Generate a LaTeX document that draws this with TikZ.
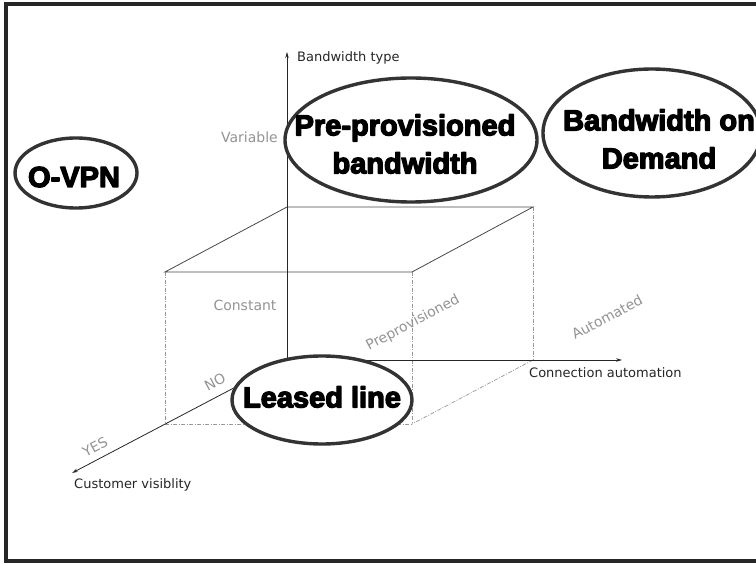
\documentclass[tikz,border=0pt]{standalone}
\usepackage{fontspec}
\setmainfont{DejaVu Sans}
\newfontfamily\heavy{Liberation Sans}
\newfontfamily\labfont{DejaVu Sans}
\usetikzlibrary{arrows.meta}
\newcommand\strk[1]{\special{pdf:literal 2 Tr 1.3 w 1 j}#1\special{pdf:literal 0 Tr}}
\definecolor{ink}{gray}{0.15}
\definecolor{lightlab}{gray}{0.58}
\definecolor{boxdash}{gray}{0.6}
\tikzset{
  axisline/.style={draw=ink, line width=0.8pt},
  axisarrow/.style={axisline, -{Stealth[length=6pt,width=3.5pt]}},
  topedge/.style={draw=ink!85, line width=0.8pt},
  hiddenedge/.style={draw=boxdash, line width=0.7pt, dash pattern=on 4pt off 1.5pt on 1pt off 1.5pt},
  oval/.style={draw=black!80, line width=3.4pt, fill=white},
  ovaltext/.style={font=\heavy\bfseries\fontsize{29}{38}\selectfont, align=center, inner sep=0pt, text=black},
  axlabel/.style={font=\labfont\fontsize{13}{15}\selectfont, text=ink, inner sep=0pt},
  greylab/.style={font=\labfont\fontsize{14}{16}\selectfont, text=lightlab, inner sep=0pt},
}
\begin{document}
\begin{tikzpicture}[x=1pt,y=-1pt]
\useasboundingbox (0,0) rectangle (756,564);
\clip (0,0) rectangle (756,564);
\fill[white] (0,0) rectangle (756,564);
% frame
\draw[line width=3.5pt, black!85] (760,4) -- (6,4) -- (6,561) -- (760,561);
% coordinates
\coordinate (O) at (287,360);
\coordinate (Ytop) at (287,52);
\coordinate (Xend) at (622,360);
\coordinate (Zend) at (72,473);
\coordinate (BTL) at (287,207);
\coordinate (BTR) at (533,207);
\coordinate (FTL) at (165,272);
\coordinate (FTR) at (412,272);
\coordinate (FBL) at (165,424);
\coordinate (FBR) at (412,424);
\coordinate (BBR) at (533,360);
% hidden box edges
\draw[hiddenedge] (FTL) -- (FBL);
\draw[hiddenedge] (FTR) -- (FBR);
\draw[hiddenedge] (BTR) -- (BBR);
\draw[hiddenedge] (FBL) -- (FBR);
\draw[hiddenedge] (BBR) -- (FBR);
% top face
\draw[topedge] (FTL) -- (BTL) -- (BTR) -- (FTR) -- cycle;
% axes
\draw[axisarrow] (O) -- (Ytop);
\draw[axisarrow] (O) -- (Xend);
\draw[axisarrow] (O) -- (Zend);
% axis labels
\node[axlabel, anchor=west] (lbw) at (297,58) {Bandwidth type};
\node[axlabel, anchor=west] (lca) at (529,373) {Connection automation};
\node[axlabel, anchor=west] (lcv) at (74,485) {Customer visiblity};
% grey value labels
\node[greylab, anchor=east] (lvar) at (278,137) {Variable};
\node[greylab] (lcon) at (245,305) {Constant};
\node[greylab, rotate=28] (lpre) at (413,323) {Preprovisioned};
\node[greylab, rotate=28] (laut) at (607,317) {Automated};
\node[greylab, rotate=28] (lno) at (215,382) {NO};
\node[greylab, rotate=28] (lyes) at (95,447) {YES};
% ovals
\draw[oval] (76,173) ellipse [x radius=61, y radius=35];
\node[ovaltext] (ovpn) at (74,177) {\strk{O-VPN}};
\draw[oval] (411,140) ellipse [x radius=126, y radius=62];
\node[ovaltext] (ppb) at (405,144) {\strk{Pre-provisioned}\\\strk{bandwidth}};
\draw[oval] (652,133) ellipse [x radius=109, y radius=64];
\node[ovaltext] (bod) at (659,139) {\strk{Bandwidth on}\\\strk{Demand}};
\draw[oval] (322,400) ellipse [x radius=90, y radius=44];
\node[ovaltext] (ll) at (322,397) {\strk{Leased line}};
\end{tikzpicture}
\end{document}
